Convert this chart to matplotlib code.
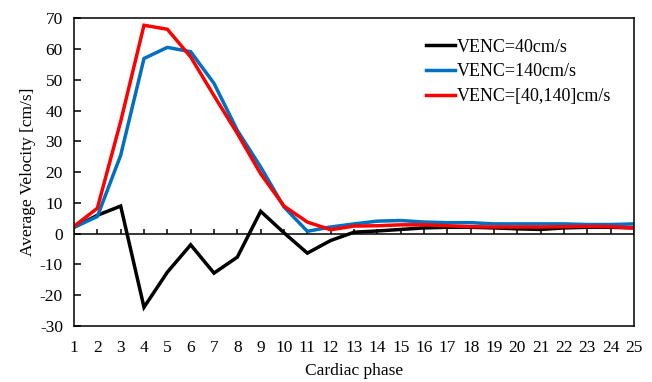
import matplotlib.pyplot as plt

phases = list(range(1, 26))

venc_40 = [2.1, 6.0, 9.0, -23.9, -12.5, -3.6, -12.8, -7.6, 7.3, 0.3, -6.3, -2.2, 0.5,
           0.9, 1.4, 1.9, 2.1, 2.1, 1.9, 1.6, 1.4, 1.9, 2.1, 2.1, 1.9]
venc_140 = [2.1, 5.6, 25.5, 57.0, 60.6, 59.2, 48.9, 33.6, 21.7, 8.7, 0.8, 2.2, 3.2,
            4.1, 4.3, 3.8, 3.6, 3.6, 3.2, 3.2, 3.2, 3.2, 3.0, 3.0, 3.2]
venc_mixed = [2.4, 8.3, 36.5, 67.8, 66.5, 57.5, 44.9, 32.6, 19.5, 9.0, 3.8, 1.3, 2.5,
              2.6, 2.9, 2.9, 2.6, 2.3, 2.2, 2.2, 2.2, 2.3, 2.4, 2.3, 1.9]

series = [
    ("VENC=40cm/s", venc_40, "#000000"),
    ("VENC=140cm/s", venc_140, "#0070C0"),
    ("VENC=[40,140]cm/s", venc_mixed, "#FF0000"),
]

y_ticks = list(range(-30, 71, 10))

plt.rcParams["font.family"] = ["Liberation Serif", "DejaVu Serif"]
plt.rcParams["axes.unicode_minus"] = False

fig = plt.figure(figsize=(6.52, 3.82), dpi=100)
ax = fig.add_axes([0.1135, 0.1466, 0.8589, 0.805])

for label, values, color in series:
    ax.plot(phases, values, color=color, lw=2.5, label=label, solid_joinstyle="miter")

# horizontal axis drawn through zero, with its tick marks pointing up
ax.axhline(0, color="black", lw=1.1, zorder=1)
ax.vlines(phases, 0, 1.6, color="black", lw=1.1, zorder=1)

ax.set_xlim(1, 25)
ax.set_ylim(-30, 70)
ax.set_xticks(phases)
ax.set_yticks(y_ticks)
ax.tick_params(axis="x", length=0, pad=10, labelsize=12.5)
ax.tick_params(axis="y", direction="in", length=5, width=1.1, pad=8, labelsize=12.5)
for spine in ax.spines.values():
    spine.set_linewidth(1.1)

ax.set_xlabel("Cardiac phase", fontsize=12.5, labelpad=5)
ax.set_ylabel("Average Velocity [cm/s]", fontsize=12.5, labelpad=3)

ax.legend(loc="upper left", bbox_to_anchor=(0.599, 0.987), frameon=False, fontsize=13,
          handlelength=1.65, handletextpad=0.1, labelspacing=0.42, borderpad=0.4)

fig.savefig("out.png", dpi=100)
